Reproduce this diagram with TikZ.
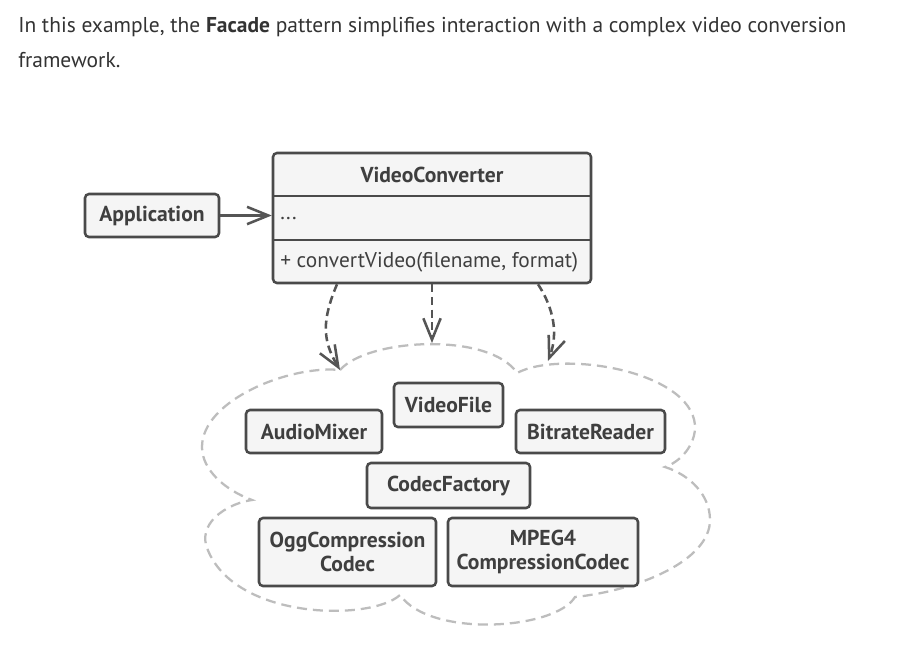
\documentclass[tikz,border=0pt]{standalone}
\usepackage{fontspec}
\setmainfont{PT Sans}
\usetikzlibrary{arrows.meta}
\definecolor{boxborder}{HTML}{4A4A4A}
\definecolor{boxfill}{HTML}{F5F5F5}
\definecolor{txt}{HTML}{3F3F3F}
\definecolor{arrowc}{HTML}{555555}
\definecolor{cloudc}{HTML}{BDBDBD}
\definecolor{titlec}{HTML}{333333}
\begin{document}
\begin{tikzpicture}[x=0.75pt,y=-0.75pt,
  cls/.style={draw=boxborder, fill=boxfill, line width=1.9pt, rounded corners=3pt, inner sep=0pt, text=txt, font=\fontsize{16.2}{18}\selectfont\bfseries, align=center},
  lbl/.style={inner sep=0pt, text=txt, font=\fontsize{16}{18}\selectfont},
  vhead/.style={-{Straight Barb[length=16pt,width=13pt,line width=1.9pt]}},
  assoc/.style={vhead, draw=arrowc, line width=1.8pt},
  dep/.style={vhead, draw=arrowc, line width=1.9pt, dash pattern=on 6pt off 3.5pt},
  cloud/.style={draw=cloudc, line width=1.7pt, dash pattern=on 7.5pt off 4.5pt}
]
\useasboundingbox[fill=white] (0,0) rectangle (920,661);

% title text
\node[anchor=west, inner sep=0pt, text=titlec, font=\fontsize{16.1}{18}\selectfont] (t1) at (18,27) {In this example, the \textbf{Facade} pattern simplifies interaction with a complex video conversion};
\node[anchor=west, inner sep=0pt, text=titlec, font=\fontsize{16.1}{18}\selectfont] (t2) at (18,60) {framework.};

% cloud
\coordinate (cA) at (340,370);
\coordinate (cB) at (517,373);
\coordinate (cR) at (548,361);
\coordinate (cM) at (432,343);
\draw[cloud] (cA) .. controls (368,338) and (490,332) .. (cB)
  .. controls (560,350) and (690,370) .. (695,425)
  .. controls (696,445) and (680,462) .. (665,467)
  .. controls (690,475) and (710,495) .. (710,520)
  .. controls (710,560) and (640,590) .. (575,597)
  .. controls (555,630) and (430,638) .. (400,595)
  .. controls (370,622) and (230,620) .. (206,545)
  .. controls (200,520) and (230,503) .. (252,500)
  .. controls (225,490) and (202,470) .. (202,447)
  .. controls (202,400) and (290,365) .. (cA);

% Application
\node[cls, minimum width=134*0.75pt, minimum height=43*0.75pt] (app) at (152,215.5) {Application};

% VideoConverter
\node[cls, minimum width=318*0.75pt, minimum height=130*0.75pt] (vc) at (432,218) {};
\draw[boxborder, line width=1.9pt] (273,196) -- (591,196);
\draw[boxborder, line width=1.9pt] (273,240) -- (591,240);
\node[inner sep=0pt, text=txt, font=\fontsize{16.2}{18}\selectfont\bfseries] (vcname) at (432,175) {VideoConverter};
\node[lbl, anchor=west] (vcattr) at (280,219) {...};
\node[lbl, anchor=west] (vcop) at (280,262) {+ convertVideo(filename, format)};

% subsystem classes
\node[cls, minimum width=109*0.75pt, minimum height=44*0.75pt] (vfile) at (448.5,405) {VideoFile};
\node[cls, minimum width=136*0.75pt, minimum height=43*0.75pt] (amix) at (314,431.5) {AudioMixer};
\node[cls, minimum width=149*0.75pt, minimum height=43*0.75pt] (brr) at (590.5,431.5) {BitrateReader};
\node[cls, minimum width=163*0.75pt, minimum height=45*0.75pt] (cf) at (448.5,485.5) {CodecFactory};
\node[cls, minimum width=177*0.75pt, minimum height=68*0.75pt] (ogg) at (347.5,552) {OggCompression\\Codec};
\node[cls, minimum width=190*0.75pt, minimum height=68*0.75pt] (mpeg) at (543,552) {MPEG4\\CompressionCodec};

% connectors
\draw[assoc] (app.east) -- (vc.west |- app.east);
\draw[dep] (vc.south -| 337,0) .. controls (322,320) and (322,340) .. (cA);
\draw[dep] (vc.south -| cM) -- (cM);
\draw[dep] (vc.south -| 538,0) .. controls (558,315) and (556,340) .. (cR);
\end{tikzpicture}
\end{document}
